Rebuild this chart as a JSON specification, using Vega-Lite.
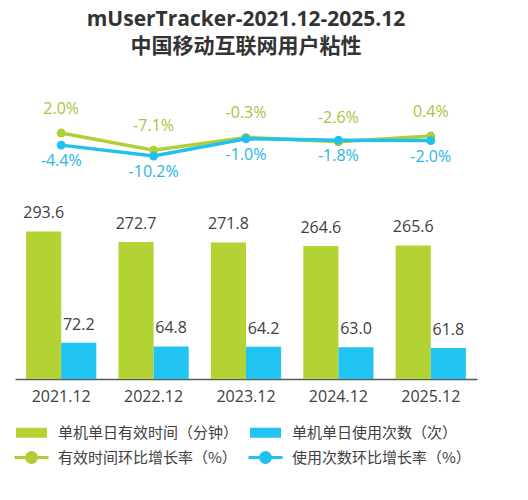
{
  "$schema": "https://vega.github.io/schema/vega-lite/v6.json",
  "width": 462,
  "height": 284,
  "padding": {"left": 15, "top": 9, "right": 10, "bottom": 5},
  "background": "white",
  "title": {
    "text": ["mUserTracker-2021.12-2025.12", "中国移动互联网用户粘性"],
    "font": "Open Sans, Noto Sans CJK SC",
    "fontSize": 21,
    "fontWeight": "bold",
    "color": "#333333",
    "lineHeight": 27,
    "anchor": "middle",
    "offset": 38
  },
  "config": {
    "view": {"stroke": null},
    "locale": {"number": {"decimal": ".", "thousands": ",", "grouping": [3], "currency": ["", ""], "minus": "-"}}
  },
  "data": {
    "values": [
      {"year": "2021.12", "kind": "bar", "series": "单机单日有效时间（分钟）", "value": 293.6},
      {"year": "2022.12", "kind": "bar", "series": "单机单日有效时间（分钟）", "value": 272.7},
      {"year": "2023.12", "kind": "bar", "series": "单机单日有效时间（分钟）", "value": 271.8},
      {"year": "2024.12", "kind": "bar", "series": "单机单日有效时间（分钟）", "value": 264.6},
      {"year": "2025.12", "kind": "bar", "series": "单机单日有效时间（分钟）", "value": 265.6},
      {"year": "2021.12", "kind": "bar", "series": "单机单日使用次数（次）", "value": 72.2},
      {"year": "2022.12", "kind": "bar", "series": "单机单日使用次数（次）", "value": 64.8},
      {"year": "2023.12", "kind": "bar", "series": "单机单日使用次数（次）", "value": 64.2},
      {"year": "2024.12", "kind": "bar", "series": "单机单日使用次数（次）", "value": 63.0},
      {"year": "2025.12", "kind": "bar", "series": "单机单日使用次数（次）", "value": 61.8},
      {"year": "2021.12", "kind": "line", "series": "有效时间环比增长率（%）", "value": 0.020},
      {"year": "2022.12", "kind": "line", "series": "有效时间环比增长率（%）", "value": -0.071},
      {"year": "2023.12", "kind": "line", "series": "有效时间环比增长率（%）", "value": -0.003},
      {"year": "2024.12", "kind": "line", "series": "有效时间环比增长率（%）", "value": -0.026},
      {"year": "2025.12", "kind": "line", "series": "有效时间环比增长率（%）", "value": 0.004},
      {"year": "2021.12", "kind": "line", "series": "使用次数环比增长率（%）", "value": -0.044},
      {"year": "2022.12", "kind": "line", "series": "使用次数环比增长率（%）", "value": -0.102},
      {"year": "2023.12", "kind": "line", "series": "使用次数环比增长率（%）", "value": -0.010},
      {"year": "2024.12", "kind": "line", "series": "使用次数环比增长率（%）", "value": -0.018},
      {"year": "2025.12", "kind": "line", "series": "使用次数环比增长率（%）", "value": -0.020}
    ]
  },
  "encoding": {
    "x": {
      "field": "year",
      "type": "nominal",
      "sort": null,
      "scale": {"paddingInner": 0.24, "paddingOuter": 0.12},
      "axis": {
        "title": null,
        "labelAngle": 0,
        "ticks": false,
        "labelPadding": 9,
        "labelFont": "Open Sans",
        "labelFontSize": 16,
        "labelColor": "#404040",
        "domainColor": "#595959",
        "domainWidth": 1.5,
        "grid": false
      }
    }
  },
  "layer": [
    {
      "transform": [{"filter": "datum.kind === 'bar'"}],
      "layer": [
        {
          "mark": {"type": "bar"},
          "encoding": {
            "xOffset": {"field": "series", "type": "nominal", "sort": ["单机单日有效时间（分钟）", "单机单日使用次数（次）"], "scale": {"paddingInner": 0, "paddingOuter": 0}},
            "y": {"field": "value", "type": "quantitative", "scale": {"domain": [0, 565], "nice": false}, "axis": null},
            "color": {
              "field": "series",
              "type": "nominal",
              "scale": {
                "domain": ["单机单日有效时间（分钟）", "单机单日使用次数（次）", "有效时间环比增长率（%）", "使用次数环比增长率（%）"],
                "range": ["#b3d234", "#21c3f0", "#b0cf36", "#21c0ee"]
              },
              "legend": {
                "title": null,
                "orient": "bottom",
                "direction": "horizontal",
                "columns": 2,
                "offset": 21,
                "symbolSize": 100,
                "labelOffset": 28,
                "labelFont": "Noto Sans CJK SC",
                "labelFontSize": 15,
                "labelColor": "#404040",
                "labelLimit": 400,
                "columnPadding": 3,
                "rowPadding": 5,
                "encode": {
                  "symbols": {
                    "update": {
                      "shape": {"signal": "datum.index < 2 ? 'M-1.3,-1h6.2v2h-6.2z' : 'M-1.6,0H5.2M0.8,0a1,1 0 1,0 2,0a1,1 0 1,0 -2,0'"},
                      "strokeWidth": {"signal": "datum.index < 2 ? 0 : 3"},
                      "stroke": {"scale": "color", "field": "value"},
                      "fill": {"scale": "color", "field": "value"},
                      "opacity": {"value": 1},
                      "fillOpacity": {"value": 1},
                      "strokeOpacity": {"value": 1}
                    }
                  }
                }
              }
            }
          }
        },
        {
          "mark": {"type": "text", "dy": -18, "baseline": "middle", "font": "Open Sans", "fontSize": 16, "color": "#404040"},
          "encoding": {
            "xOffset": {"field": "series", "type": "nominal", "sort": ["单机单日有效时间（分钟）", "单机单日使用次数（次）"]},
            "y": {"field": "value", "type": "quantitative"},
            "text": {"field": "value", "type": "quantitative", "format": ".1f"}
          }
        }
      ]
    },
    {
      "transform": [{"filter": "datum.kind === 'line'"}],
      "layer": [
        {
          "mark": {"type": "line", "strokeWidth": 3.5},
          "encoding": {
            "y": {"field": "value", "type": "quantitative", "scale": {"domain": [-1.285, 0.222], "nice": false, "zero": false}, "axis": null},
            "color": {"field": "series", "type": "nominal"}
          }
        },
        {
          "mark": {"type": "point", "filled": true, "size": 80, "opacity": 1},
          "encoding": {
            "y": {"field": "value", "type": "quantitative"},
            "color": {"field": "series", "type": "nominal"}
          }
        },
        {
          "transform": [{"filter": "datum.series === '有效时间环比增长率（%）'"}],
          "mark": {"type": "text", "dy": -24, "baseline": "middle", "font": "Open Sans", "fontSize": 16, "color": "#a7c33e"},
          "encoding": {
            "y": {"field": "value", "type": "quantitative"},
            "text": {"field": "value", "type": "quantitative", "format": ".1%"}
          }
        },
        {
          "transform": [{"filter": "datum.series === '使用次数环比增长率（%）'"}],
          "mark": {"type": "text", "dy": 16, "baseline": "middle", "font": "Open Sans", "fontSize": 16, "color": "#27b5e6"},
          "encoding": {
            "y": {"field": "value", "type": "quantitative"},
            "text": {"field": "value", "type": "quantitative", "format": ".1%"}
          }
        }
      ]
    }
  ],
  "resolve": {"scale": {"y": "independent"}}
}
